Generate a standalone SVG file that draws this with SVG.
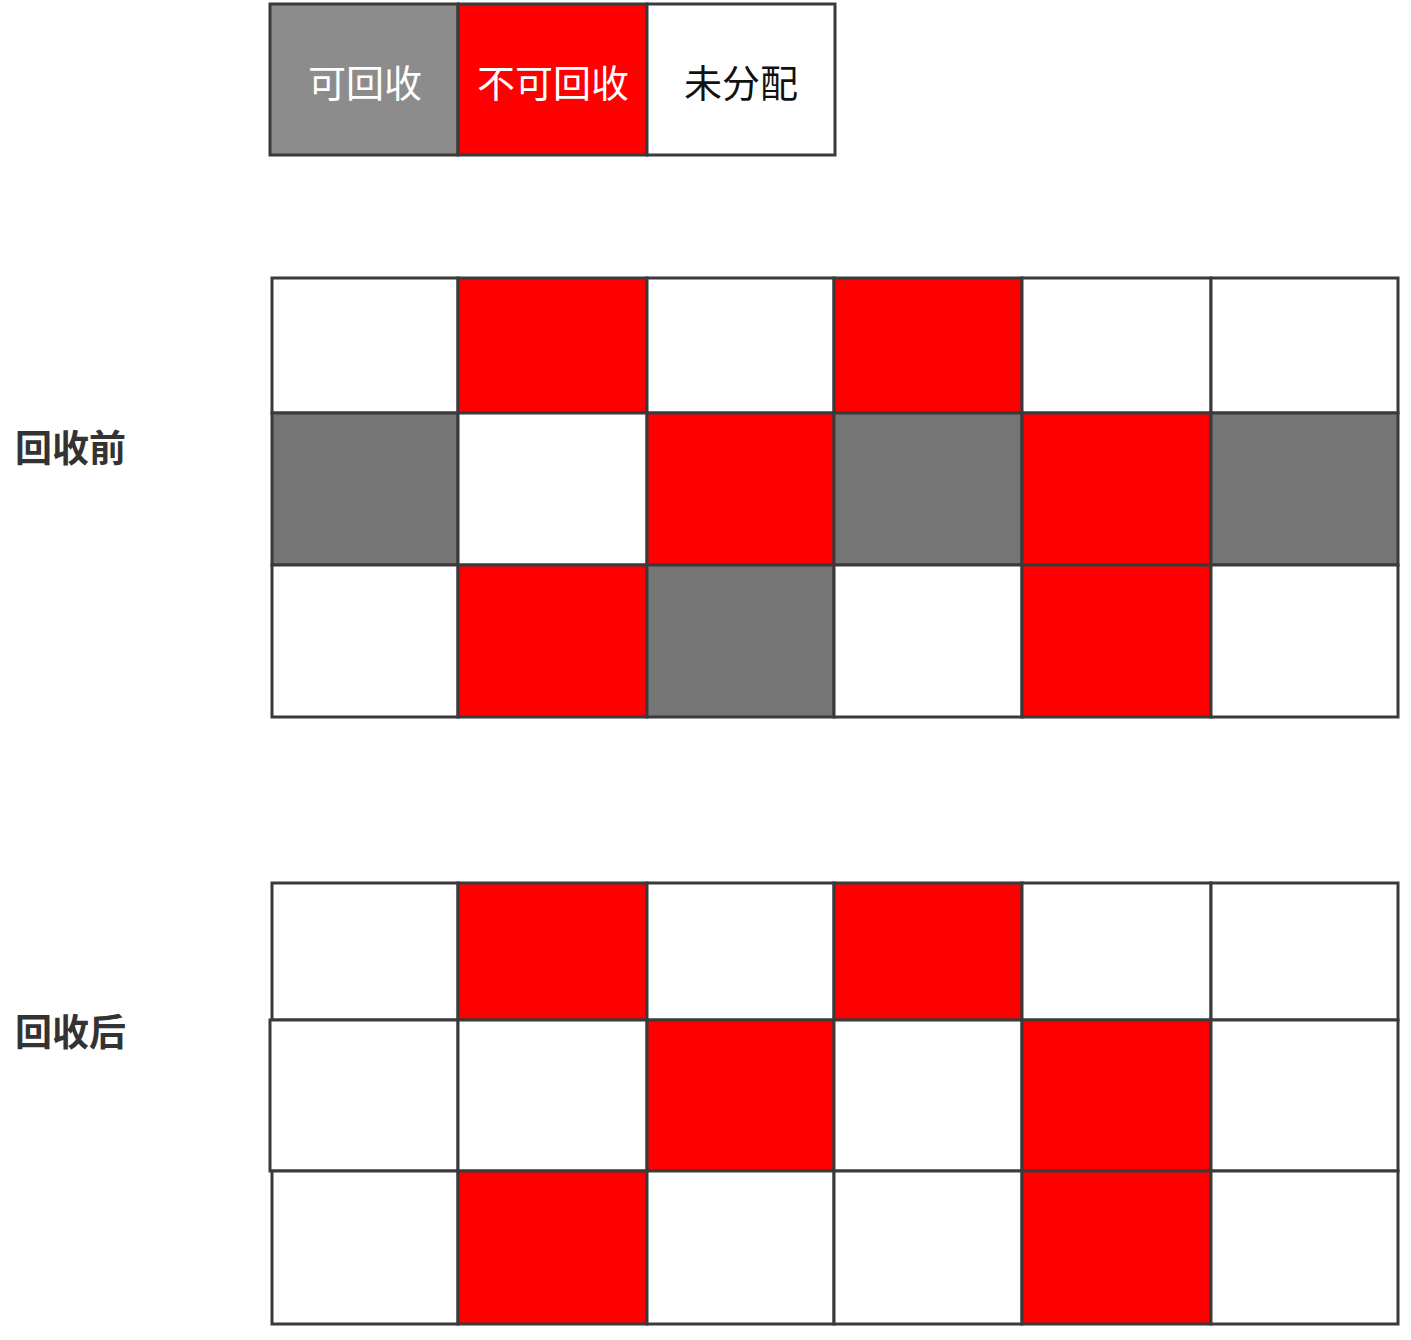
<svg xmlns="http://www.w3.org/2000/svg" width="1411" height="1340" viewBox="0 0 1411 1340">
<style>
.c{stroke:#3a3a3a;stroke-width:3}
.w{fill:#ffffff}
.r{fill:#ff0000}
.g{fill:#757575}
.lg{fill:#8c8c8c}
.t{font-family:"Noto Sans CJK SC","Noto Sans",sans-serif;font-size:38px;text-anchor:middle;dominant-baseline:central}
.lab{font-family:"Noto Sans CJK SC","Noto Sans",sans-serif;font-size:37px;font-weight:bold;fill:#333333;dominant-baseline:central}
</style>
<rect width="1411" height="1340" fill="#ffffff"/>
<g id="legend">
<g id="legend-recyclable"><rect class="c lg" x="270" y="4" width="188" height="151"/><text class="t" x="365" y="80" fill="#ffffff">可回收</text></g>
<g id="legend-unrecyclable"><rect class="c r" x="458" y="4" width="189" height="151"/><text class="t" x="553" y="80" fill="#ffffff">不可回收</text></g>
<g id="legend-unallocated"><rect class="c w" x="647" y="4" width="188" height="151"/><text class="t" x="741" y="80" fill="#111111">未分配</text></g>
</g>
<g id="label-before"><text class="lab" x="15" y="446">回收前</text></g>
<g id="label-after"><text class="lab" x="15" y="1030">回收后</text></g>
<g id="grid-before">
<rect class="c w" x="272" y="278" width="186" height="135"/>
<rect class="c r" x="458" y="278" width="189" height="135"/>
<rect class="c w" x="647" y="278" width="187" height="135"/>
<rect class="c r" x="834" y="278" width="188" height="135"/>
<rect class="c w" x="1022" y="278" width="189" height="135"/>
<rect class="c w" x="1211" y="278" width="187" height="135"/>
<rect class="c g" x="272" y="413" width="186" height="152"/>
<rect class="c w" x="458" y="413" width="189" height="152"/>
<rect class="c r" x="647" y="413" width="187" height="152"/>
<rect class="c g" x="834" y="413" width="188" height="152"/>
<rect class="c r" x="1022" y="413" width="189" height="152"/>
<rect class="c g" x="1211" y="413" width="187" height="152"/>
<rect class="c w" x="272" y="565" width="186" height="152"/>
<rect class="c r" x="458" y="565" width="189" height="152"/>
<rect class="c g" x="647" y="565" width="187" height="152"/>
<rect class="c w" x="834" y="565" width="188" height="152"/>
<rect class="c r" x="1022" y="565" width="189" height="152"/>
<rect class="c w" x="1211" y="565" width="187" height="152"/>
</g>
<g id="grid-after">
<rect class="c w" x="272" y="883" width="186" height="137"/>
<rect class="c r" x="458" y="883" width="189" height="137"/>
<rect class="c w" x="647" y="883" width="187" height="137"/>
<rect class="c r" x="834" y="883" width="188" height="137"/>
<rect class="c w" x="1022" y="883" width="189" height="137"/>
<rect class="c w" x="1211" y="883" width="187" height="137"/>
<rect class="c w" x="270" y="1020" width="188" height="151"/>
<rect class="c w" x="458" y="1020" width="189" height="151"/>
<rect class="c r" x="647" y="1020" width="187" height="151"/>
<rect class="c w" x="834" y="1020" width="188" height="151"/>
<rect class="c r" x="1022" y="1020" width="189" height="151"/>
<rect class="c w" x="1211" y="1020" width="187" height="151"/>
<rect class="c w" x="272" y="1171" width="186" height="153"/>
<rect class="c r" x="458" y="1171" width="189" height="153"/>
<rect class="c w" x="647" y="1171" width="187" height="153"/>
<rect class="c w" x="834" y="1171" width="188" height="153"/>
<rect class="c r" x="1022" y="1171" width="189" height="153"/>
<rect class="c w" x="1211" y="1171" width="187" height="153"/>
</g>
</svg>
